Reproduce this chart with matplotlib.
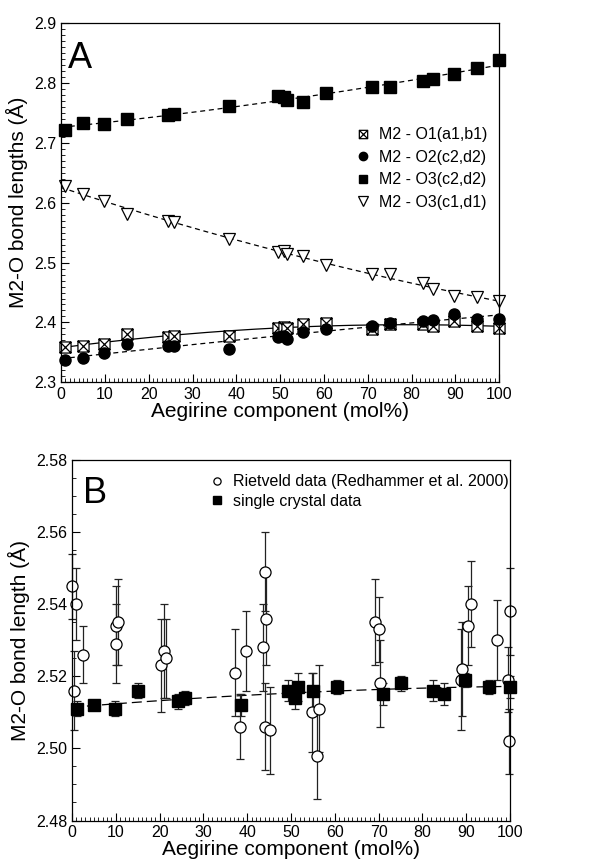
import numpy as np
import matplotlib.pyplot as plt
from matplotlib.path import Path
from matplotlib.ticker import MultipleLocator

plt.rcParams['font.family'] = ['Liberation Sans', 'DejaVu Sans']

# ---- panel A data (mol% aegirine, bond lengths in A) ----
comp_a = [1, 5, 9.7, 15, 24.3, 25.8, 38.4, 49.5, 51.0, 51.5, 55.2, 60.4,
          71, 75, 82.6, 85, 89.7, 95, 100]
o1_ab = [2.359, 2.361, 2.364, 2.381, 2.375, 2.378, 2.378, 2.391, 2.392, 2.390,
         2.398, 2.399, 2.389, 2.397, 2.397, 2.394, 2.403, 2.394, 2.390]
o2_cd = [2.337, 2.340, 2.349, 2.364, 2.360, 2.361, 2.356, 2.375, 2.378, 2.373,
         2.384, 2.389, 2.394, 2.399, 2.403, 2.404, 2.414, 2.406, 2.406]
o3_c2d2 = [2.721, 2.733, 2.732, 2.740, 2.747, 2.748, 2.761, 2.778, 2.777, 2.772,
           2.769, 2.783, 2.793, 2.794, 2.803, 2.806, 2.816, 2.825, 2.838]
o3_c1d1 = [2.628, 2.615, 2.603, 2.582, 2.569, 2.568, 2.540, 2.518, 2.520, 2.514,
           2.511, 2.496, 2.481, 2.481, 2.466, 2.456, 2.444, 2.442, 2.436]

# ---- panel B data ----
riet_x = [0.0, 1.0, 0.5, 2.5, 10.0, 10.0, 10.6, 20.4, 21.0, 21.4, 37.3, 38.4,
          39.7, 43.6, 44.1, 44.3, 44.0, 45.1, 54.9, 55.9, 56.5, 69.2, 70.1,
          70.3, 88.8, 89.0, 90.3, 91.0, 97.0, 99.6, 99.8, 100.0]
riet_y = [2.545, 2.540, 2.516, 2.526, 2.534, 2.529, 2.535, 2.523, 2.527, 2.525,
          2.521, 2.506, 2.527, 2.528, 2.549, 2.536, 2.506, 2.505, 2.510, 2.498,
          2.511, 2.535, 2.533, 2.518, 2.519, 2.522, 2.534, 2.540, 2.530, 2.519,
          2.502, 2.538]
riet_err = [0.009, 0.010, 0.011, 0.008, 0.011, 0.011, 0.012, 0.013, 0.013,
            0.011, 0.012, 0.009, 0.011, 0.012, 0.011, 0.013, 0.012, 0.012,
            0.011, 0.012, 0.012, 0.012, 0.009, 0.012, 0.014, 0.013, 0.011,
            0.012, 0.011, 0.009, 0.009, 0.012]

sc_x = [1.1, 5.1, 9.9, 15.1, 24.3, 25.9, 38.6, 49.2, 51.0, 51.6, 55.1, 60.5,
        71.1, 75.1, 82.5, 84.9, 89.7, 95.1, 100]
sc_y = [2.511, 2.512, 2.511, 2.516, 2.513, 2.514, 2.512, 2.516, 2.514, 2.517,
        2.516, 2.517, 2.515, 2.518, 2.516, 2.515, 2.519, 2.517, 2.517]
sc_err = [0.002, 0.001, 0.002, 0.002, 0.002, 0.002, 0.003, 0.003, 0.003,
          0.004, 0.005, 0.002, 0.003, 0.002, 0.003, 0.003, 0.002, 0.002, 0.003]

# crossed square marker
xbox = Path([(-1, -1), (1, -1), (1, 1), (-1, 1), (-1, -1),
             (-1, -1), (1, 1), (-1, 1), (1, -1)],
            [Path.MOVETO, Path.LINETO, Path.LINETO, Path.LINETO, Path.CLOSEPOLY,
             Path.MOVETO, Path.LINETO, Path.MOVETO, Path.LINETO])


def fit_curve(x, y, deg=2):
    c = np.polyfit(x, y, deg)
    xx = np.linspace(0, 100, 200)
    return xx, np.polyval(c, xx)


def style_axes(ax):
    ax.tick_params(which='both', direction='in', top=False, right=False,
                   labelsize=11.5)
    ax.tick_params(which='major', length=6, width=0.8)
    ax.tick_params(which='minor', length=3, width=0.6)
    ax.set_xlim(0, 100)
    ax.xaxis.set_major_locator(MultipleLocator(10))
    ax.xaxis.set_minor_locator(MultipleLocator(1))
    ax.set_xlabel('Aegirine component (mol%)', fontsize=15, labelpad=0)
    for s in ax.spines.values():
        s.set_linewidth(0.9)


fig = plt.figure(figsize=[6.05, 8.61], dpi=100)

# ---------- A ----------
axA = fig.add_axes([0.101, 0.556, 0.724, 0.417])
style_axes(axA)
axA.set_ylim(2.3, 2.9)
axA.yaxis.set_major_locator(MultipleLocator(0.1))
axA.yaxis.set_minor_locator(MultipleLocator(0.01))
axA.yaxis.set_major_formatter(plt.FormatStrFormatter('%.1f'))

xx, yy = fit_curve(comp_a, o1_ab)
axA.plot(xx, yy, '-', color='black', lw=0.9)
xx, yy = fit_curve(comp_a, o2_cd)
axA.plot(xx, yy, '--', color='black', lw=0.9, dashes=(4, 3))
xx, yy = fit_curve(comp_a, o3_c2d2)
axA.plot(xx, yy, '--', color='black', lw=0.9, dashes=(4, 3))
xx, yy = fit_curve(comp_a, o3_c1d1)
axA.plot(xx, yy, '--', color='black', lw=0.9, dashes=(4, 3))

axA.plot(comp_a, o1_ab, ls='none', marker=xbox, ms=8, mfc='white', mec='black',
         mew=0.9, label='M2 - O1(a1,b1)', clip_on=False)
axA.plot(comp_a, o2_cd, ls='none', marker='o', ms=8, mfc='black', mec='black',
         label='M2 - O2(c2,d2)', clip_on=False)
axA.plot(comp_a, o3_c2d2, ls='none', marker='s', ms=8.5, mfc='black', mec='black',
         label='M2 - O3(c2,d2)', clip_on=False)
axA.plot(comp_a, o3_c1d1, ls='none', marker='v', ms=9, mfc='white', mec='black',
         mew=0.9, label='M2 - O3(c1,d1)', clip_on=False)

axA.set_ylabel('M2-O bond lengths (Å)', fontsize=15, labelpad=4)
axA.text(0.015, 0.95, 'A', transform=axA.transAxes, fontsize=26,
         va='top', ha='left')
legA = axA.legend(loc='upper right', bbox_to_anchor=(1.005, 0.75), frameon=False,
                  fontsize=11.5, handlelength=0.8, handletextpad=0.6,
                  labelspacing=0.47, markerscale=0.75)

# ---------- B ----------
axB = fig.add_axes([0.119, 0.047, 0.724, 0.419])
style_axes(axB)
axB.set_ylim(2.48, 2.58)
axB.yaxis.set_major_locator(MultipleLocator(0.02))
axB.yaxis.set_minor_locator(MultipleLocator(0.005))
axB.yaxis.set_major_formatter(plt.FormatStrFormatter('%.2f'))

xx, yy = fit_curve(sc_x, sc_y)
axB.plot(xx, yy, color='black', lw=0.9, dashes=(8, 4))

axB.errorbar(riet_x, riet_y, yerr=riet_err, fmt='o', ms=8, mfc='white',
             mec='black', mew=0.9, ecolor='#222222', elinewidth=0.9,
             capsize=3, capthick=0.9, label='Rietveld data (Redhammer et al. 2000)',
             clip_on=False)
axB.errorbar(sc_x, sc_y, yerr=sc_err, fmt='s', ms=9, mfc='black', mec='black',
             ecolor='#222222', elinewidth=0.9, capsize=3, capthick=0.9,
             label='single crystal data', clip_on=False)

axB.set_ylabel('M2-O bond length (Å)', fontsize=15, labelpad=4)
axB.text(0.025, 0.955, 'B', transform=axB.transAxes, fontsize=26,
         va='top', ha='left')
h, l = axB.get_legend_handles_labels()
h = [hh[0] for hh in h]
axB.legend(h, l, loc='upper right', bbox_to_anchor=(1.03, 1.0), frameon=False,
           fontsize=11.5, handlelength=0.8, handletextpad=0.6,
           labelspacing=0.3, markerscale=0.65)

plt.savefig('out.png', dpi=100)
